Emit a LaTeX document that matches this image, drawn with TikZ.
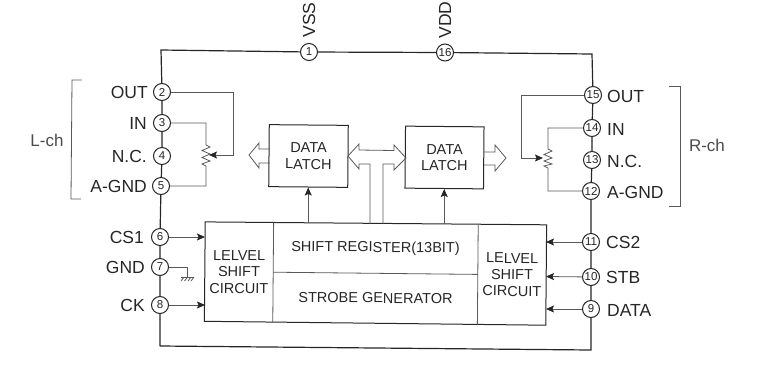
\documentclass[tikz,border=0pt]{standalone}
\usepackage{fontspec}
\setmainfont{Liberation Sans}
\usetikzlibrary{arrows.meta}
\newcommand{\pinfont}{\fontsize{17.5}{19}\selectfont}
\newcommand{\boxfont}{\fontsize{14.5}{16.5}\selectfont}
\definecolor{ink}{gray}{0.15}
\definecolor{soft}{gray}{0.35}
\tikzset{x=1pt,y=-1pt,
 tipk/.tip={Stealth[length=8pt,width=7pt,inset=1.5pt,color=ink,fill=ink]},
 pinc/.style={circle,draw=ink,line width=1pt,fill=white,inner sep=0pt,minimum size=17pt,font=\fontsize{11.5}{12}\selectfont,text=ink},
 pinlab/.style={font=\pinfont,text=ink,inner sep=0pt},
 chlab/.style={font=\fontsize{17}{19}\selectfont,text=black!70,inner sep=0pt},
 blk/.style={draw=ink,line width=1pt,inner sep=0pt,align=center,font=\boxfont,text=ink,rotate=-0.5},
 cell/.style={inner sep=0pt,align=center,font=\boxfont,text=ink,rotate=-0.5},
 frame/.style={draw=ink,line width=1pt},
 wire/.style={draw=soft,line width=0.8pt},
 sig/.style={draw=soft,line width=0.8pt,-tipk},
 rail/.style={draw=ink,line width=1.2pt},
 bus/.style={draw=soft,line width=0.8pt,line join=miter}
}
\begin{document}
\begin{tikzpicture}
\useasboundingbox (0,0) rectangle (761,365);
% rail corners
\coordinate (tl) at (161,50);
\coordinate (tr) at (592,54);
\coordinate (bl) at (160,346);
\coordinate (br) at (591,350);
% blocks
\node[blk,minimum width=79pt,minimum height=62pt] (la) at (308.5,156) {DATA\\LATCH};
\node[blk,minimum width=78.5pt,minimum height=62pt] (lb) at (444.5,157.5) {DATA\\LATCH};
\node[cell,minimum width=68pt,minimum height=99pt] (lsl) at (239,271.9) {LELVEL\\SHIFT\\CIRCUIT};
\node[cell,minimum width=205pt,minimum height=49.5pt] (sr) at (375.5,248.3) {SHIFT REGISTER(13BIT)};
\node[cell,minimum width=205pt,minimum height=50pt] (sg) at (375.5,298) {STROBE GENERATOR};
\node[cell,minimum width=68pt,minimum height=100pt] (lsr) at (512,274.7) {LELVEL\\SHIFT\\CIRCUIT};
\draw[frame] (lsl.north west) -- (lsr.north east) -- (lsr.south east) -- (lsl.south west) -- cycle;
\draw[wire] (lsl.north east) -- (lsl.south east);
\draw[wire] (lsr.north west) -- (lsr.south west);
\draw[wire] (lsl.east) -- (lsr.west);
% pins
\node[pinc] (p1) at (309,52) {1};
\node[pinc] (p16) at (445,52.5) {16};
\node[pinc] (p2) at (162,92) {2};
\node[pinc] (p3) at (162,123) {3};
\node[pinc] (p4) at (162,156) {4};
\node[pinc] (p5) at (161,186) {5};
\node[pinc] (p6) at (160,237) {6};
\node[pinc] (p7) at (160,267) {7};
\node[pinc] (p8) at (160,305) {8};
\node[pinc] (p15) at (593,95) {15};
\node[pinc] (p14) at (592,128) {14};
\node[pinc] (p13) at (592,160) {13};
\node[pinc] (p12) at (591,191) {12};
\node[pinc] (p11) at (591,242) {11};
\node[pinc] (p10) at (591,277) {10};
\node[pinc] (p9) at (591,309) {9};
% rails
\draw[rail] (bl) -- (p8) -- (p7) -- (p6) -- (p5) -- (p4) -- (p3) -- (p2) -- (tl) -- (p1) -- (p16) -- (tr) -- (p15) -- (p14) -- (p13) -- (p12) -- (p11) -- (p10) -- (p9) -- (br) -- (bl);
% pin labels
\node[pinlab,anchor=east] (t2) at (148,92) {OUT};
\node[pinlab,anchor=east] (t3) at (147,123) {IN};
\node[pinlab,anchor=east] (t4) at (147,156) {N.C.};
\node[pinlab,anchor=east] (t5) at (147,186) {A-GND};
\node[pinlab,anchor=east] (t6) at (144,237) {CS1};
\node[pinlab,anchor=east] (t7) at (145,267) {GND};
\node[pinlab,anchor=east] (t8) at (145,305) {CK};
\node[pinlab,anchor=west] (t15) at (607,96) {OUT};
\node[pinlab,anchor=west] (t14) at (607,129) {IN};
\node[pinlab,anchor=west] (t13) at (607,161) {N.C.};
\node[pinlab,anchor=west] (t12) at (607,192) {A-GND};
\node[pinlab,anchor=west] (t11) at (606,242) {CS2};
\node[pinlab,anchor=west] (t10) at (606,277) {STB};
\node[pinlab,anchor=west] (t9) at (607,310) {DATA};
\node[pinlab,rotate=90] (tvss) at (309,20) {VSS};
\node[pinlab,rotate=90] (tvdd) at (445,20) {VDD};
\node[chlab] (tl1) at (47,140) {L-ch};
\node[chlab] (tr1) at (707,145) {R-ch};
% brackets
\draw[wire] (82,80) -- (72,80) -- (71,199) -- (81,199);
\draw[wire] (669,86) -- (680,86) -- (680,206) -- (669,206);
% inputs to level shifters
\coordinate (a6) at (205,237);
\coordinate (a8) at (205,305);
\coordinate (a11) at (546,242);
\coordinate (a10) at (546,276.5);
\coordinate (a9) at (546,309);
\draw[sig] (p6) -- (a6);
\draw[sig] (p8) -- (a8);
\draw[sig] (p11) -- (a11);
\draw[sig] (p10) -- (a10);
\draw[sig] (p9) -- (a9);
% latch clocks
\draw[sig] (la.south |- sr.north) ++(0,-0.5) -- (la.south);
\draw[sig] (lb.south |- sr.north) ++(0,0.8) -- (lb.south);
% GND
\coordinate (g) at (187,277);
\draw[wire] (p7) -| (g);
\draw[wire] (181,277) -- (194,277);
\draw[wire] (184,277) -- (181,281) (187.5,277) -- (184.5,281) (191,277) -- (188,281) (194,277) -- (191,281);
% left potentiometer
\coordinate (rlt) at (206,145);
\coordinate (rlb) at (206,166);
\coordinate (wl) at (209,155);
\draw[wire] (p3) -| (rlt) -- (210,147) -- (202,150.5) -- (210,154) -- (202,157.5) -- (210,161) -- (202,164) -- (rlb) |- (p5);
\draw[wire,-tipk] (p2) -| (233,155) -- (wl);
% right potentiometer
\coordinate (rrt) at (548,149);
\coordinate (rrb) at (548,168);
\coordinate (wr) at (543,158);
\draw[wire] (p14) -| (rrt) -- (552,151) -- (544,154.5) -- (552,158) -- (544,161) -- (552,164) -- (544,166) -- (rrb) |- (p12);
\draw[wire,-tipk] (p15) -| (521,158) -- (wr);
% bus arrows
\draw[bus] (270,149) -- (259,149) -- (259,143) -- (249,155) -- (259,168) -- (259,163) -- (270,163);
\draw[bus] (370,224) -- (370,164) -- (359,164) -- (359,169) -- (348,156) -- (359,144) -- (359,150) -- (394,150.5) -- (394,145) -- (406,158) -- (394,170) -- (394,164) -- (383,164) -- (383,224);
\draw[bus] (484,152) -- (495,152) -- (495,145) -- (506,158) -- (495,171) -- (495,165) -- (484,165);
\end{tikzpicture}
\end{document}
